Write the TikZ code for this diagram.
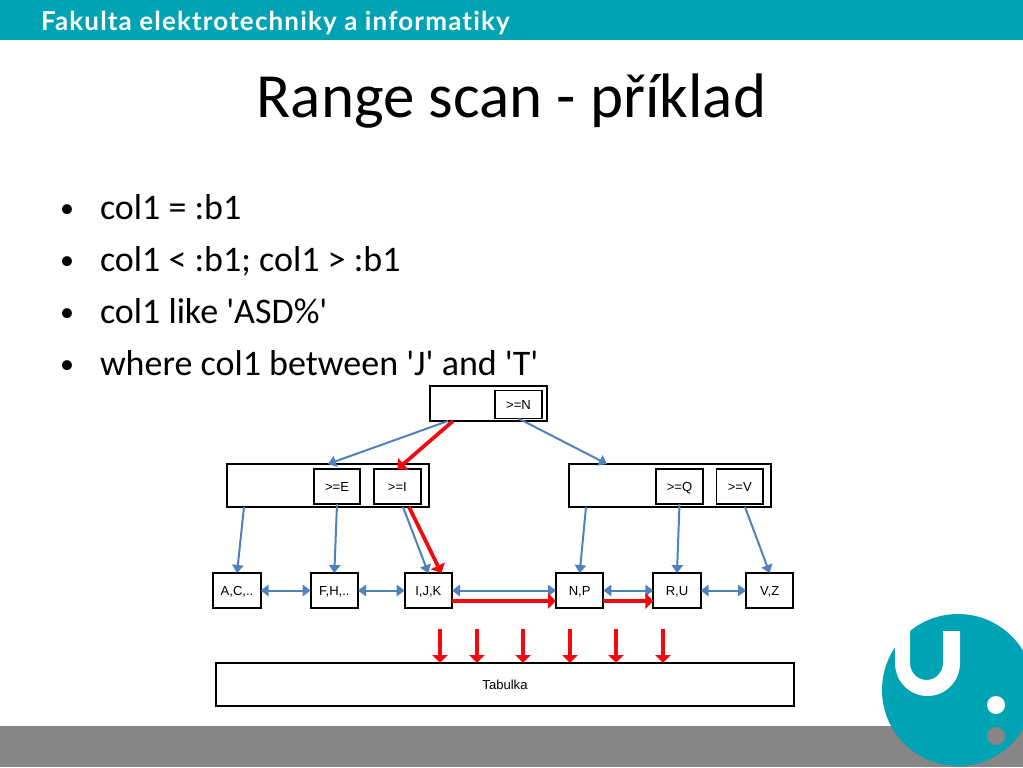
\documentclass[tikz,border=0pt]{standalone}
\usepackage{xcolor}
\usepackage{fontspec}
\setmainfont{Carlito}
\newfontfamily\quotefont{Carlito}
\newfontfamily\headfont[LetterSpace=4.4,Ligatures=NoCommon]{Lato}
\newfontfamily\arialfont{Liberation Sans}
\usetikzlibrary{arrows.meta, positioning}
\definecolor{vsbteal}{RGB}{0,163,180}
\definecolor{footgrey}{RGB}{135,133,133}
\definecolor{linkblue}{RGB}{79,129,189}
\definecolor{scanred}{RGB}{240,10,15}
\newcommand{\sq}{{\quotefont\char"27}}

\begin{document}
\begin{tikzpicture}[x=0.75pt, y=-0.75pt,
      every node/.style={outer sep=0pt},
      box/.style={draw=black, fill=white, line width=1.4pt, inner sep=0pt, text height=7pt, text depth=0pt, font=\arialfont\fontsize{9.8}{11}\selectfont},
      keybox/.style={box, minimum width=35pt, minimum height=26pt},
      leaf/.style={box, minimum width=35.5pt, minimum height=26.25pt},
      inode/.style={box, minimum width=151.5pt, minimum height=32.25pt},
      bul/.style={anchor=base west, inner sep=0pt, font=\fontsize{27}{30}\selectfont},
      ar/.style={-{Triangle[length=6pt, width=8.5pt]}, draw=linkblue, line width=1.5pt},
      dbl/.style={{Triangle[length=6pt, width=8.5pt]}-{Triangle[length=6pt, width=8.5pt]}, draw=linkblue, line width=1.5pt},
      redar/.style={-{Triangle[length=6pt, width=11.5pt]}, draw=scanred, line width=2.8pt}]
    \useasboundingbox (0,0) rectangle (1023,767);
    \fill[vsbteal] (0,0) rectangle (1023,40);
    \fill[footgrey] (0,726) rectangle (1023,767);
    \node[anchor=base west, inner sep=0pt, text=white, font=\headfont\bfseries\fontsize{19.5}{21}\selectfont] (faculty) at (41,30.5) {Fakulta elektrotechniky a informatiky};
    \node[anchor=base, inner sep=0pt, font=\fontsize{47.2}{50}\selectfont] (title) at (511.5,117) {Range scan - příklad};
    \node[bul] (b1) at (100,219) {col1 = :b1};
    \node[bul] (b2) at (100,271) {col1 < :b1; col1 > :b1};
    \node[bul] (b3) at (100,323) {col1 like \sq ASD\%\sq};
    \node[bul] (b4) at (100,375) {where col1 between \sq J\sq{} and \sq T\sq};
    \foreach \y in {218,270,322,374} \node[anchor=base, inner sep=0pt, font=\fontsize{21}{24}\selectfont] (dot\y) at (67,\y-1) {•};

    \begin{scope}
      \clip (0,0) rectangle (1023,767);
      \fill[vsbteal] (958,690) circle[radius=76];
      \fill[white] (960,631) -- (960,663) arc[start angle=0, end angle=180, x radius=32.5, y radius=33] -- (895,640) -- (905,625) -- (910,625) -- (910,663) arc[start angle=180, end angle=0, x radius=16.5, y radius=17] -- (943,631) -- cycle;
      \fill[white] (996,705) circle[radius=9];
      \fill[footgrey] (996,736) circle[radius=9];
    \end{scope}

    \node[box, minimum width=87.75pt, minimum height=26.25pt] (root) at (488.5,403.5) {};
    \node[keybox, minimum height=21pt] (keyN) at (518.5,404.5) {>=N};

    \node[inode] (lnode) at (328,485.5) {};
    \node[inode, right=105pt of lnode] (rnode) {};
    \node[keybox] (keyE) at (337,486.5) {>=E};
    \node[keybox, right=10.25pt of keyE] (keyI) {>=I};
    \node[keybox] (keyQ) at (679.5,486.5) {>=Q};
    \node[keybox, right=10.25pt of keyQ] (keyV) {>=V};

    \node[leaf] (ac) at (237,590.5) {A,C,..};
    \node[leaf, right=37.5pt of ac] (fh) {F,H,..};
    \node[leaf, right=35pt of fh] (ijk) {I,J,K};
    \node[leaf, right=78pt of ijk] (np) {N,P};
    \node[leaf, right=37.5pt of np] (ru) {R,U};
    \node[leaf, right=34pt of ru] (vz) {V,Z};

    \node[box, minimum width=433.5pt, minimum height=32.25pt] (tab) at (505,684.5) {Tabulka};

    \draw[ar] ([shift={(18,0)}]root.south west) -- ([shift={(101,0)}]lnode.north west);
    \draw[redar] ([shift={(23,0)}]root.south west) -- (keyI.north);
    \draw[ar] (keyN.south) -- ([shift={(38,0)}]rnode.north west);

    \draw[ar] ([shift={(17,0)}]lnode.south west) -- (ac.north);
    \draw[ar] (keyE.south) -- (fh.north);
    \draw[ar] ([shift={(-26,0)}]lnode.south east) -- (ijk.north);
    \draw[redar] ([shift={(-20,0)}]lnode.south east) -- ([shift={(13,0)}]ijk.north);
    \draw[ar] ([shift={(17,0)}]rnode.south west) -- (np.north);
    \draw[ar] (keyQ.south) -- (ru.north);
    \draw[ar] ([shift={(-26,0)}]rnode.south east) -- (vz.north);

    \draw[dbl] (ac) -- (fh);
    \draw[dbl] (fh) -- (ijk);
    \draw[dbl] (ijk) -- (np);
    \draw[dbl] (np) -- (ru);
    \draw[dbl] (ru) -- (vz);
    \draw[redar] ([shift={(0,-7)}]ijk.south east) -- ([shift={(0,-7)}]np.south west);
    \draw[redar] ([shift={(0,-7)}]np.south east) -- ([shift={(0,-7)}]ru.south west);

    \foreach \x in {440,477,523,570,616,663} {
      \coordinate (start\x) at (\x,629);
      \draw[redar] (start\x) -- (start\x |- tab.north);
    }
  \end{tikzpicture}
\end{document}
